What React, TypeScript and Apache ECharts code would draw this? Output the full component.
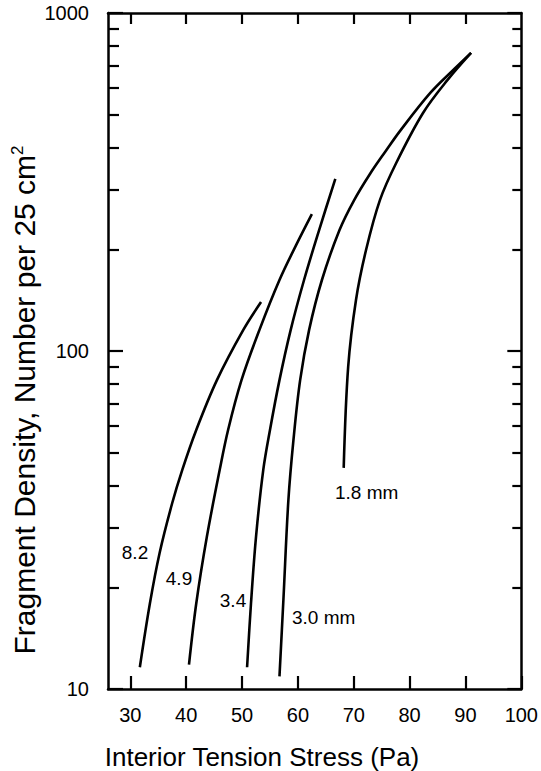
import React, { useEffect, useRef } from "react";
import * as echarts from "echarts";

const FONT = "'Liberation Sans', Arial, Helvetica, sans-serif";

// x ticks / labels
const xTickValues = [30, 40, 50, 60, 70, 80, 90, 100];
const xTopTickValues = [30, 40, 50, 60, 70, 80, 90];
// y (log) ticks
const yMajorValues = [10, 100, 1000];
const yMinorValues = [20, 30, 40, 50, 60, 70, 80, 90, 200, 300, 400, 500, 600, 700, 800, 900];

// curves: [stress (Pa), fragment density per 25 cm2]
const curve82: number[][] = [
  [31.7, 11.6], [33.5, 17.9], [35.25, 25.3], [37.5, 35.5], [39.3, 44.5],
  [41.8, 58.4], [45.5, 82.0], [50.2, 115.3], [53.4, 139.6],
];
const curve49: number[][] = [
  [40.5, 11.8], [41.8, 17.9], [43.7, 28.2], [46.0, 44.5], [47.5, 58.4],
  [49.9, 82.0], [53.1, 115.3], [56.7, 162.2], [59.7, 206], [62.5, 254],
];
const curve34: number[][] = [
  [50.9, 11.6], [51.6, 17.9], [52.5, 28.2], [53.8, 44.5], [55.0, 58.4],
  [56.7, 82.0], [58.7, 115.3], [61.1, 162.2], [63.8, 228], [66.7, 323],
];
const curve30: number[][] = [
  [56.7, 10.9], [57.4, 18.3], [58.3, 36.3], [59.2, 54.5], [60.4, 82.0],
  [62.0, 115.3], [64.3, 162.2], [67.45, 228], [70.1, 280], [72.9, 334],
  [75.7, 390], [78.3, 448], [83.7, 580], [88.0, 683], [91.0, 762],
];
const curve18: number[][] = [
  [68.2, 45.1], [69.0, 89.7], [70.4, 141.6], [72.2, 199], [74.7, 280],
  [77.6, 360], [82.4, 506], [86.8, 634], [91.0, 762],
];

const seriesNames = ["8.2", "4.9", "3.4", "3.0 mm", "1.8 mm"];
const seriesData = [curve82, curve49, curve34, curve30, curve18];

export default function App() {
  const ref = useRef<HTMLDivElement>(null);
  useEffect(() => {
    if (!ref.current) return;
    const chart = echarts.init(ref.current, null, { renderer: "svg" });
    const axisLine = { show: true, lineStyle: { color: "#000", width: 2.5 } };
    const tickStyle = { color: "#000", width: 2.2 };
    const option: any = {
      animation: false,
      backgroundColor: "#fff",
      grid: { left: 108, right: 14, top: 13, bottom: 82, containLabel: false },
      xAxis: [
        {
          type: "value", min: 26, max: 100, position: "bottom",
          axisLine,
          axisTick: { show: true, inside: true, length: 13, lineStyle: tickStyle, customValues: xTickValues },
          axisLabel: { customValues: xTickValues, color: "#000", fontSize: 20, margin: 16, fontFamily: FONT },
          splitLine: { show: false },
        },
        {
          type: "value", min: 26, max: 100, position: "top",
          axisLine,
          axisTick: { show: true, inside: true, length: 11, lineStyle: tickStyle, customValues: xTopTickValues },
          axisLabel: { show: false },
          splitLine: { show: false },
        },
      ],
      yAxis: [
        {
          type: "log", logBase: 10, min: 10, max: 1000, position: "left",
          axisLine,
          axisTick: { show: true, inside: true, length: 15, lineStyle: tickStyle, customValues: yMajorValues },
          axisLabel: {
            customValues: yMajorValues, color: "#000", fontSize: 20, margin: 19, fontFamily: FONT,
            formatter: (v: number) => String(Math.round(v)),
          },
          splitLine: { show: false },
        },
        {
          type: "log", logBase: 10, min: 10, max: 1000, position: "left",
          axisLine: { show: false },
          axisTick: { show: true, inside: true, length: 11, lineStyle: tickStyle, customValues: yMinorValues },
          axisLabel: { show: false },
          splitLine: { show: false },
        },
        {
          type: "log", logBase: 10, min: 10, max: 1000, position: "right",
          axisLine,
          axisTick: { show: true, inside: true, length: 14, lineStyle: tickStyle, customValues: yMajorValues },
          axisLabel: { show: false },
          splitLine: { show: false },
        },
        {
          type: "log", logBase: 10, min: 10, max: 1000, position: "right",
          axisLine: { show: false },
          axisTick: { show: true, inside: true, length: 9, lineStyle: tickStyle, customValues: yMinorValues },
          axisLabel: { show: false },
          splitLine: { show: false },
        },
      ],
      series: seriesData.map((d, i) => ({
        name: seriesNames[i],
        type: "line",
        xAxisIndex: 0,
        yAxisIndex: 0,
        data: d,
        smooth: 0.35,
        showSymbol: false,
        symbol: "none",
        lineStyle: { color: "#000", width: 2.6 },
        z: 3,
      })),
      graphic: [
        {
          type: "text", x: 262, y: 757,
          style: { text: "Interior Tension Stress (Pa)", fill: "#000", font: `26px ${FONT}`, align: "center", verticalAlign: "middle" },
        },
        {
          type: "text", x: 24, y: 400, rotation: Math.PI / 2,
          style: {
            text: "Fragment Density, Number per 25 cm{sup|2}",
            fill: "#000", font: `30px ${FONT}`, fontSize: 30, fontFamily: FONT, align: "center", verticalAlign: "middle",
            rich: { sup: { fontSize: 17, fontFamily: FONT, fill: "#000", verticalAlign: "top", padding: [0, 0, 12, 0] } },
          },
        },
        { type: "text", x: 135, y: 552, style: { text: "8.2", fill: "#000", font: `19px ${FONT}`, align: "center", verticalAlign: "middle" } },
        { type: "text", x: 179, y: 578, style: { text: "4.9", fill: "#000", font: `19px ${FONT}`, align: "center", verticalAlign: "middle" } },
        { type: "text", x: 233, y: 600, style: { text: "3.4", fill: "#000", font: `19px ${FONT}`, align: "center", verticalAlign: "middle" } },
        { type: "text", x: 292, y: 617, style: { text: "3.0 mm", fill: "#000", font: `19px ${FONT}`, align: "left", verticalAlign: "middle" } },
        { type: "text", x: 335, y: 492, style: { text: "1.8 mm", fill: "#000", font: `19px ${FONT}`, align: "left", verticalAlign: "middle" } },
      ],
    };
    chart.setOption(option);
    return () => chart.dispose();
  }, []);
  return <div ref={ref} style={{ width: 541, height: 771, position: "absolute", left: 0, top: 0 }} />;
}
